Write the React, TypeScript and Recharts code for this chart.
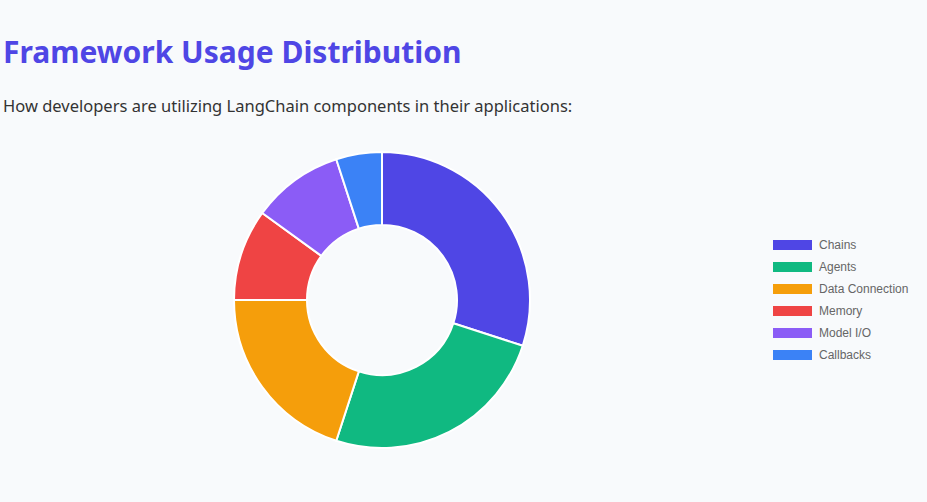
import { PieChart, Pie, Cell, Legend } from 'recharts';

const categories = ['Chains', 'Agents', 'Data Connection', 'Memory', 'Model I/O', 'Callbacks'];
const usage = [30, 25, 20, 10, 10, 5];
const colors = ['#4f46e5', '#10b981', '#f59e0b', '#ef4444', '#8b5cf6', '#3b82f6'];

const data = categories.map((name, i) => ({ name, value: usage[i] }));

const renderLegend = () => (
  <div>
    {categories.map((name, i) => (
      <div key={name} style={{ display: 'flex', alignItems: 'center', height: 22 }}>
        <span style={{ width: 39, height: 10, background: colors[i], display: 'inline-block' }} />
        <span
          style={{
            marginLeft: 7,
            fontSize: 12,
            color: '#666666',
            fontFamily: '"Liberation Sans", Arial, sans-serif'
          }}
        >
          {name}
        </span>
      </div>
    ))}
  </div>
);

export default function App() {
  return (
    <div
      style={{
        position: 'absolute',
        left: 0,
        top: 0,
        width: 927,
        height: 502,
        background: '#f8fafc',
        overflow: 'hidden'
      }}
    >
      {/* Header */}
      <div
        style={{
          position: 'absolute',
          left: 3,
          top: 30,
          fontFamily: '"Noto Sans", "Open Sans", sans-serif',
          fontWeight: 700,
          fontSize: 30,
          color: '#4f46e5',
          lineHeight: '44px',
          whiteSpace: 'nowrap'
        }}
      >
        Framework Usage Distribution
      </div>
      <div
        style={{
          position: 'absolute',
          left: 3,
          top: 94,
          fontFamily: '"Noto Sans", "Open Sans", sans-serif',
          fontSize: 16.5,
          color: '#333333',
          lineHeight: '24px',
          whiteSpace: 'nowrap'
        }}
      >
        How developers are utilizing LangChain components in their applications:
      </div>

      {/* Donut */}
      <div style={{ position: 'absolute', left: 0, top: 140 }}>
        <PieChart width={927} height={320}>
          <Pie
            data={data}
            dataKey="value"
            nameKey="name"
            cx={377}
            cy={155}
            innerRadius={75}
            outerRadius={148}
            startAngle={90}
            endAngle={-270}
            stroke="#ffffff"
            strokeWidth={2}
            isAnimationActive={false}
          >
            {data.map((d, i) => (
              <Cell key={d.name} fill={colors[i]} />
            ))}
          </Pie>
          <Legend
            content={renderLegend}
            layout="vertical"
            align="right"
            verticalAlign="middle"
            wrapperStyle={{ left: 773, top: 94, width: 150, right: 'auto', bottom: 'auto' }}
          />
        </PieChart>
      </div>
    </div>
  );
}
